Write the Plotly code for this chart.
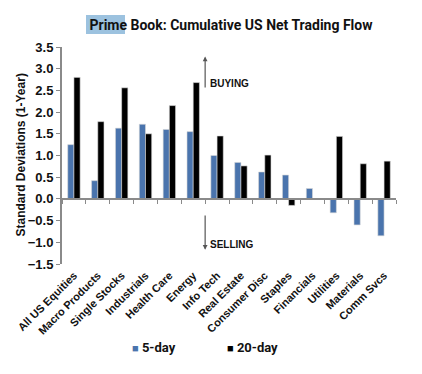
import plotly.graph_objects as go

categories = ["All US Equities", "Macro Products", "Single Stocks", "Industrials",
              "Health Care", "Energy", "Info Tech", "Real Estate", "Consumer Disc",
              "Staples", "Financials", "Utilities", "Materials", "Comm Svcs"]
five_day = [1.25, 0.42, 1.63, 1.72, 1.60, 1.55, 1.00, 0.84, 0.62, 0.55, 0.24, -0.32, -0.60, -0.85]
twenty_day = [2.80, 1.78, 2.56, 1.50, 2.15, 2.68, 1.45, 0.76, 1.01, -0.15, 0.01, 1.44, 0.81, 0.87]
series_names = ["5-day", "20-day"]
series_colors = ["#4a74ad", "#000000"]
y_ticks = [3.5, 3.0, 2.5, 2.0, 1.5, 1.0, 0.5, 0.0, -0.5, -1.0, -1.5]
y_range = [-1.5, 3.5]
y_title = "Standard Deviations (1-Year)"

AX = "#8a8a8a"
ARIAL = "Liberation Sans, Arial"
ROBOTO = "Roboto, Liberation Sans"

fig = go.Figure()
for name, vals, col in zip(series_names, [five_day, twenty_day], series_colors):
    fig.add_trace(go.Bar(x=categories, y=vals, name=name, marker_color=col,
                         marker_line=dict(color="#d8d8d8", width=0.6),
                         showlegend=False, xaxis="x", yaxis="y"))
# invisible helper trace for the zero-line axis
fig.add_trace(go.Scatter(x=categories, y=[None] * len(categories), xaxis="x2", yaxis="y",
                         showlegend=False, hoverinfo="skip", mode="markers"))

zero_pos = (0 - y_range[0]) / (y_range[1] - y_range[0])

fig.update_layout(
    width=422, height=374,
    margin=dict(l=62, r=26, t=47, b=110),
    paper_bgcolor="white", plot_bgcolor="white",
    barmode="group", bargap=0.48, bargroupgap=0.0,
    title=dict(text="<b>Prime Book: Cumulative US Net Trading Flow</b>",
               x=231 / 422, xanchor="center", xref="container",
               y=1 - 25 / 374, yanchor="middle", yref="container",
               font=dict(family=ROBOTO, size=14, color="#111")),
    xaxis=dict(type="category", categoryorder="array", categoryarray=categories,
               range=[-0.5, len(categories) - 0.5],
               showline=False, ticks="", showgrid=False, zeroline=False,
               tickangle=-45, ticklabelstandoff=2,
               tickfont=dict(family=ARIAL, size=11, color="#111", weight="bold")),
    xaxis2=dict(type="category", categoryorder="array", categoryarray=categories,
                range=[-0.5, len(categories) - 0.5], overlaying="x", anchor="free",
                position=zero_pos, showline=True, linecolor=AX, linewidth=1.5,
                ticks="outside", tickson="boundaries", ticklen=4, tickcolor=AX, tickwidth=1,
                showticklabels=False, showgrid=False, zeroline=False),
    yaxis=dict(range=y_range, tickvals=y_ticks, tickformat=".1f",
               showline=True, linecolor=AX, linewidth=2, ticks="outside", ticklen=4,
               tickcolor=AX, tickwidth=1, showgrid=False, zeroline=False,
               tickfont=dict(family=ARIAL, size=13, color="#111", weight="bold")),
)

# y-axis title
fig.add_annotation(x=(20 - 62) / 334, y=0.5, xref="paper", yref="paper", text=y_title,
                   textangle=-90, showarrow=False, xanchor="center", yanchor="middle",
                   font=dict(family=ARIAL, size=12, color="#111", weight="bold"))

# highlight behind "Prime"
fig.add_shape(type="rect", xref="paper", yref="paper",
              x0=(86 - 62) / 334, x1=(125 - 62) / 334,
              y0=(264 - 34) / 217, y1=(264 - 15) / 217,
              fillcolor="#9cc2df", line_width=0, layer="below")

# BUYING / SELLING arrows
arrow_x = 5.5
fig.add_annotation(x=arrow_x, y=3.28, ax=arrow_x, ay=2.53, xref="x", yref="y",
                   axref="x", ayref="y", showarrow=True, arrowhead=2, arrowsize=0.8,
                   arrowwidth=1.2, arrowcolor="#555", text="")
fig.add_annotation(x=arrow_x, y=-1.17, ax=arrow_x, ay=-0.35, xref="x", yref="y",
                   axref="x", ayref="y", showarrow=True, arrowhead=2, arrowsize=0.8,
                   arrowwidth=1.2, arrowcolor="#555", text="")
fig.add_annotation(x=arrow_x, y=2.65, xref="x", yref="y", text="BUYING", showarrow=False,
                   xanchor="left", xshift=3, font=dict(family=ARIAL, size=10, color="#111", weight="bold"))
fig.add_annotation(x=arrow_x, y=-1.04, xref="x", yref="y", text="SELLING", showarrow=False,
                   xanchor="left", xshift=3, font=dict(family=ARIAL, size=10, color="#111", weight="bold"))

# legend as text entries
legend_px = [130, 225]
for name, col, px in zip(series_names, series_colors, legend_px):
    fig.add_annotation(x=(px - 62) / 334, y=-(347 - 264) / 217, xref="paper", yref="paper",
                       xanchor="left", yanchor="middle", showarrow=False,
                       text=f'<span style="color:{col};font-size:11px">■</span> <b>{name}</b>',
                       font=dict(family=ROBOTO, size=13, color="#111"))

fig.write_html("out.html")
